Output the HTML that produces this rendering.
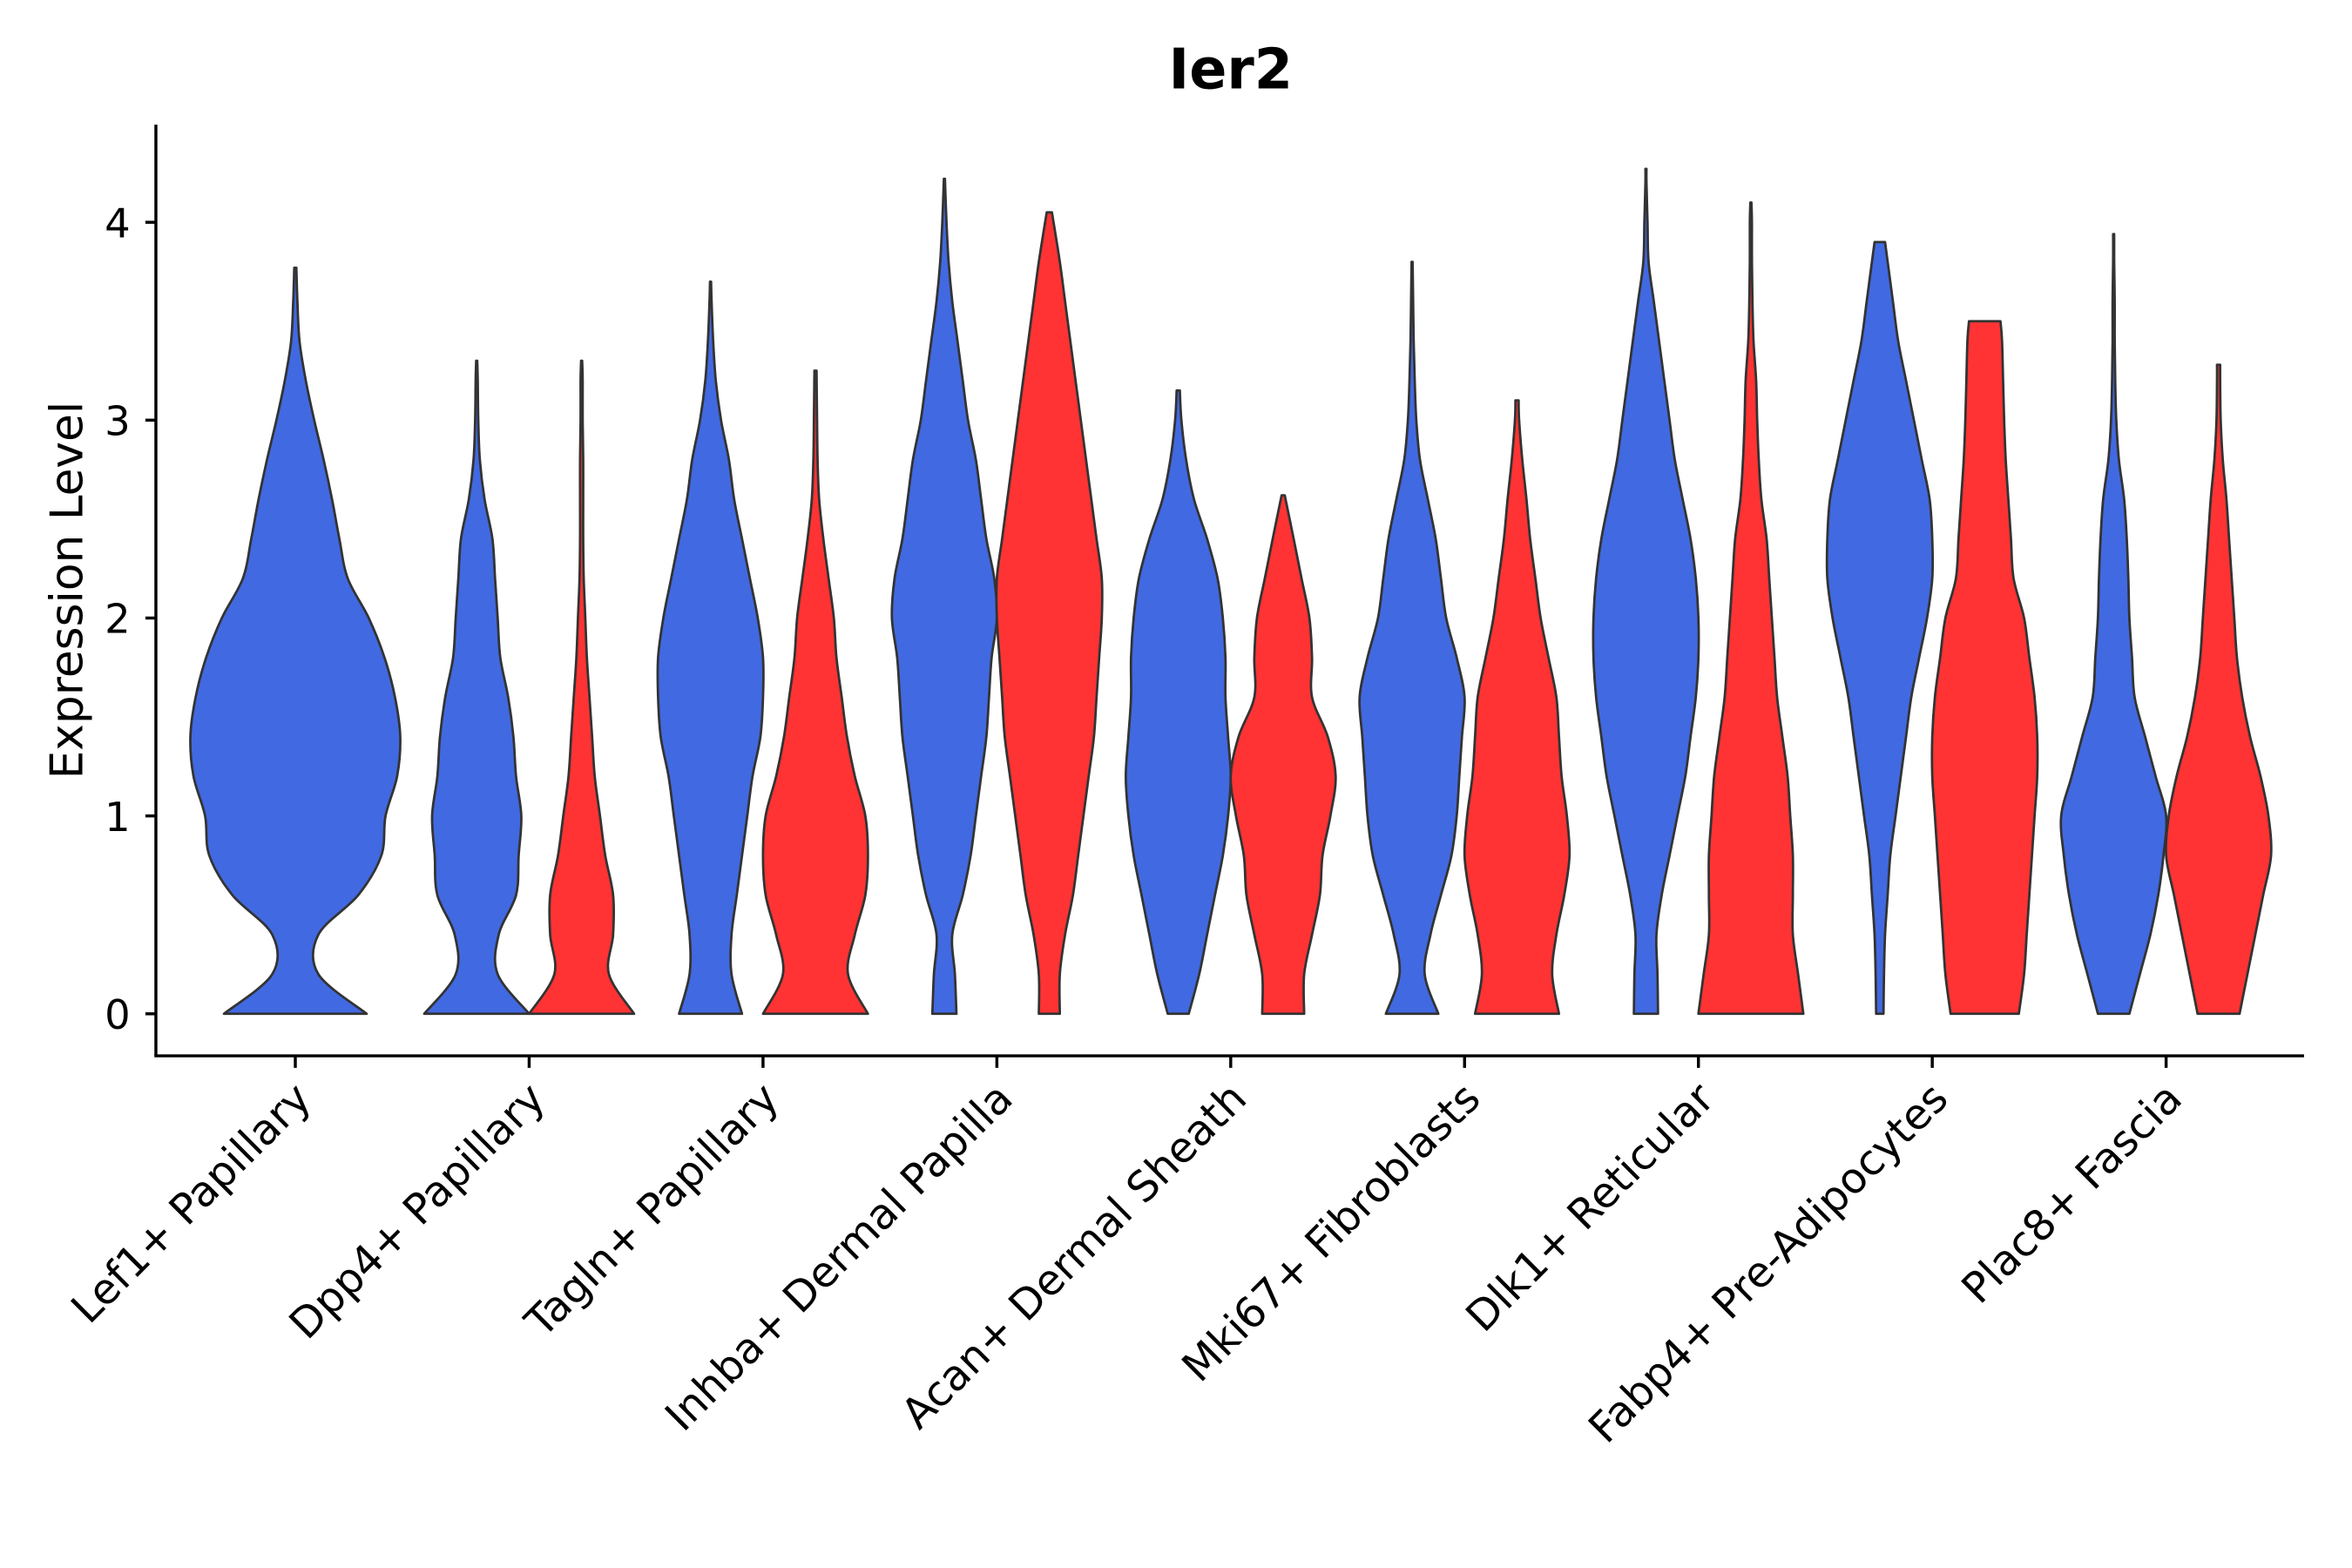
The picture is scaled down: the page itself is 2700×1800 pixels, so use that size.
<!DOCTYPE html>
<html><head><meta charset="utf-8"><style>
html,body{margin:0;padding:0;background:#fff;}
svg{display:block;font-family:"DejaVu Sans","Liberation Sans",sans-serif;}
</style></head><body>
<svg id="chart" width="2700" height="1800" viewBox="0 0 1569 1044" preserveAspectRatio="none" xmlns="http://www.w3.org/2000/svg">
<text x="821" y="59" text-anchor="middle" font-size="37" font-weight="bold">Ier2</text>
<g id="axes"></g>
<g id="violins"></g>
<text transform="translate(55,393) rotate(-90)" text-anchor="middle" font-size="30">Expression Level</text>
</svg>
<script>
const categories=["Lef1+ Papillary","Dpp4+ Papillary","Tagln+ Papillary","Inhba+ Dermal Papilla","Acan+ Dermal Sheath","Mki67+ Fibroblasts","Dlk1+ Reticular","Fabp4+ Pre-Adipocytes","Plac8+ Fascia"];
const yTicks=[0,1,2,3,4];
const levels=[0,0.2,0.4,0.6,0.8,1.0,1.2,1.4,1.6,1.8,2.0,2.2,2.4,2.6,2.8,3.0,3.2,3.4,3.6,3.8,4.0,4.2];
const violinCategory=[0,1,1,2,2,3,3,4,4,5,5,6,6,7,7,8,8];
const violinGroup=[-1,0,1,0,1,0,1,0,1,0,1,0,1,0,1,0,1];
const violinMax=[3.77,3.3,3.3,3.7,3.25,4.22,4.05,3.15,2.62,3.8,3.1,4.27,4.1,3.9,3.5,3.94,3.28];
const violinTip=[0.01,0.01,0.01,0.01,0.02,0.01,0.05,0.03,0.03,0.01,0.03,0.01,0.01,0.1,0.3,0.01,0.03];
const densities=[
[0.68,0.22,0.22,0.6,0.82,0.86,0.97,1.0,0.95,0.85,0.7,0.5,0.42,0.35,0.27,0.18,0.1,0.04,0.02,0.01,0,0],
[1.0,0.4,0.42,0.75,0.8,0.85,0.75,0.7,0.6,0.45,0.4,0.35,0.3,0.15,0.06,0.03,0.02,0.01,0,0,0,0],
[1.0,0.52,0.6,0.6,0.45,0.35,0.25,0.2,0.15,0.1,0.07,0.04,0.03,0.03,0.03,0.02,0.02,0.01,0,0,0,0],
[0.6,0.4,0.4,0.5,0.6,0.7,0.8,0.95,1.0,1.0,0.9,0.75,0.6,0.45,0.35,0.2,0.1,0.05,0.02,0,0,0],
[1.0,0.62,0.75,0.95,1.0,0.95,0.75,0.6,0.5,0.4,0.35,0.25,0.15,0.07,0.04,0.03,0.02,0,0,0,0,0],
[0.23,0.2,0.15,0.35,0.5,0.6,0.7,0.8,0.85,0.9,1.0,0.95,0.8,0.7,0.6,0.45,0.35,0.25,0.15,0.08,0.04,0.01],
[0.2,0.2,0.3,0.45,0.55,0.65,0.75,0.85,0.9,0.95,1.0,1.0,0.9,0.8,0.7,0.6,0.5,0.4,0.3,0.2,0.05,0],
[0.2,0.4,0.55,0.7,0.85,0.95,1.0,0.95,0.9,0.9,0.85,0.75,0.55,0.3,0.15,0.06,0,0,0,0,0,0],
[0.4,0.4,0.55,0.7,0.75,0.9,1.0,0.85,0.55,0.55,0.5,0.35,0.2,0.03,0,0,0,0,0,0,0,0],
[0.5,0.24,0.35,0.55,0.75,0.85,0.9,0.95,1.0,0.85,0.65,0.55,0.45,0.3,0.15,0.08,0.05,0.03,0.02,0.01,0,0],
[0.8,0.67,0.75,0.9,1.0,0.95,0.85,0.8,0.75,0.6,0.45,0.35,0.25,0.18,0.1,0.04,0,0,0,0,0,0],
[0.23,0.22,0.2,0.3,0.45,0.6,0.75,0.85,0.95,1.0,1.0,0.95,0.85,0.7,0.55,0.45,0.35,0.25,0.15,0.05,0.03,0.01],
[1.0,0.9,0.8,0.8,0.8,0.75,0.7,0.6,0.5,0.45,0.4,0.35,0.3,0.2,0.15,0.12,0.1,0.05,0.03,0.02,0.02,0],
[0.07,0.08,0.1,0.15,0.2,0.3,0.4,0.5,0.6,0.75,0.9,1.0,1.0,0.95,0.8,0.65,0.5,0.35,0.25,0.15,0,0],
[0.65,0.75,0.8,0.85,0.9,0.95,1.0,1.0,0.95,0.85,0.75,0.55,0.5,0.45,0.4,0.37,0.35,0.33,0,0,0,0],
[0.3,0.5,0.7,0.85,0.95,1.0,0.8,0.6,0.4,0.35,0.3,0.28,0.25,0.2,0.1,0.05,0.03,0.02,0.02,0.01,0,0],
[0.4,0.55,0.7,0.85,1.0,0.95,0.8,0.6,0.45,0.35,0.3,0.25,0.2,0.15,0.08,0.04,0.03,0,0,0,0,0]
];
const colors=["#4169E1","#FF3333"];
const X0=197, XSTEP=156, Y0=675, YU=131.75;
const xScale=i=>X0+i*XSTEP;
const yScale=v=>Y0-v*YU;
const NS="http://www.w3.org/2000/svg";
function mk(tag,attrs,parent){const e=document.createElementNS(NS,tag);for(const k in attrs)e.setAttribute(k,attrs[k]);parent.appendChild(e);return e;}
const axes=document.getElementById('axes');
const yAxis=mk('line',{x1:104,y1:83,x2:104,y2:703,stroke:'#000','stroke-width':2},axes);


const xAxis=mk('line',{x1:103,y1:703,x2:1537,y2:703,stroke:'#000','stroke-width':2},axes);


yTicks.forEach(t=>{
  const tk=mk('line',{x1:97,x2:104,y1:yScale(t),y2:yScale(t),stroke:'#000','stroke-width':2},axes);
  
  
  const lb=mk('text',{x:87,y:yScale(t)+10,'text-anchor':'end','font-size':27},axes);
  
  
  lb.textContent=t;
});
categories.forEach((c,i)=>{
  const x=xScale(i);
  const tk=mk('line',{x1:x,x2:x,y1:703,y2:711,stroke:'#000','stroke-width':2},axes);
  
  
  const lb=mk('text',{transform:`translate(${x+12},${733}) rotate(-45)`,'text-anchor':'end','font-size':28},axes);
  
  
  lb.textContent=c;
});
function catmull(pts){
  let d=`M${pts[0][0]},${pts[0][1]}`;
  for(let i=0;i<pts.length-1;i++){
    const p0=pts[Math.max(0,i-1)],p1=pts[i],p2=pts[i+1],p3=pts[Math.min(pts.length-1,i+2)];
    const c1=[p1[0]+(p2[0]-p0[0])/6,p1[1]+(p2[1]-p0[1])/6];
    const c2=[p2[0]-(p3[0]-p1[0])/6,p2[1]-(p3[1]-p1[1])/6];
    d+=` C${c1[0]},${c1[1]} ${c2[0]},${c2[1]} ${p2[0]},${p2[1]}`;
  }
  return d;
}
const vg=document.getElementById('violins');
densities.forEach((dens,k)=>{
  const g=violinGroup[k];
  const cx=xScale(violinCategory[k])+(g<0?0:(g===0?-35:35));
  const hw=g<0?70:35;
  const mx=violinMax[k];
  const prof=[];
  levels.forEach((lv,j)=>{if(lv<mx-0.05)prof.push([lv,dens[j]]);});
  prof.push([mx,violinTip[k]]);
  const right=prof.map(p=>[cx+p[1]*hw,yScale(p[0])]);
  const left=prof.slice().reverse().map(p=>[cx-p[1]*hw,yScale(p[0])]);
  const d=catmull(right)+` L${left[0][0]},${left[0][1]} `+catmull(left).replace(/^M[^ ]+/,'')+' Z';
  const path=mk('path',{d:d,fill:colors[g<0?0:g],stroke:'#333','stroke-width':1.6,'stroke-linejoin':'round'},vg);
  
  
});
</script>
</body></html>
